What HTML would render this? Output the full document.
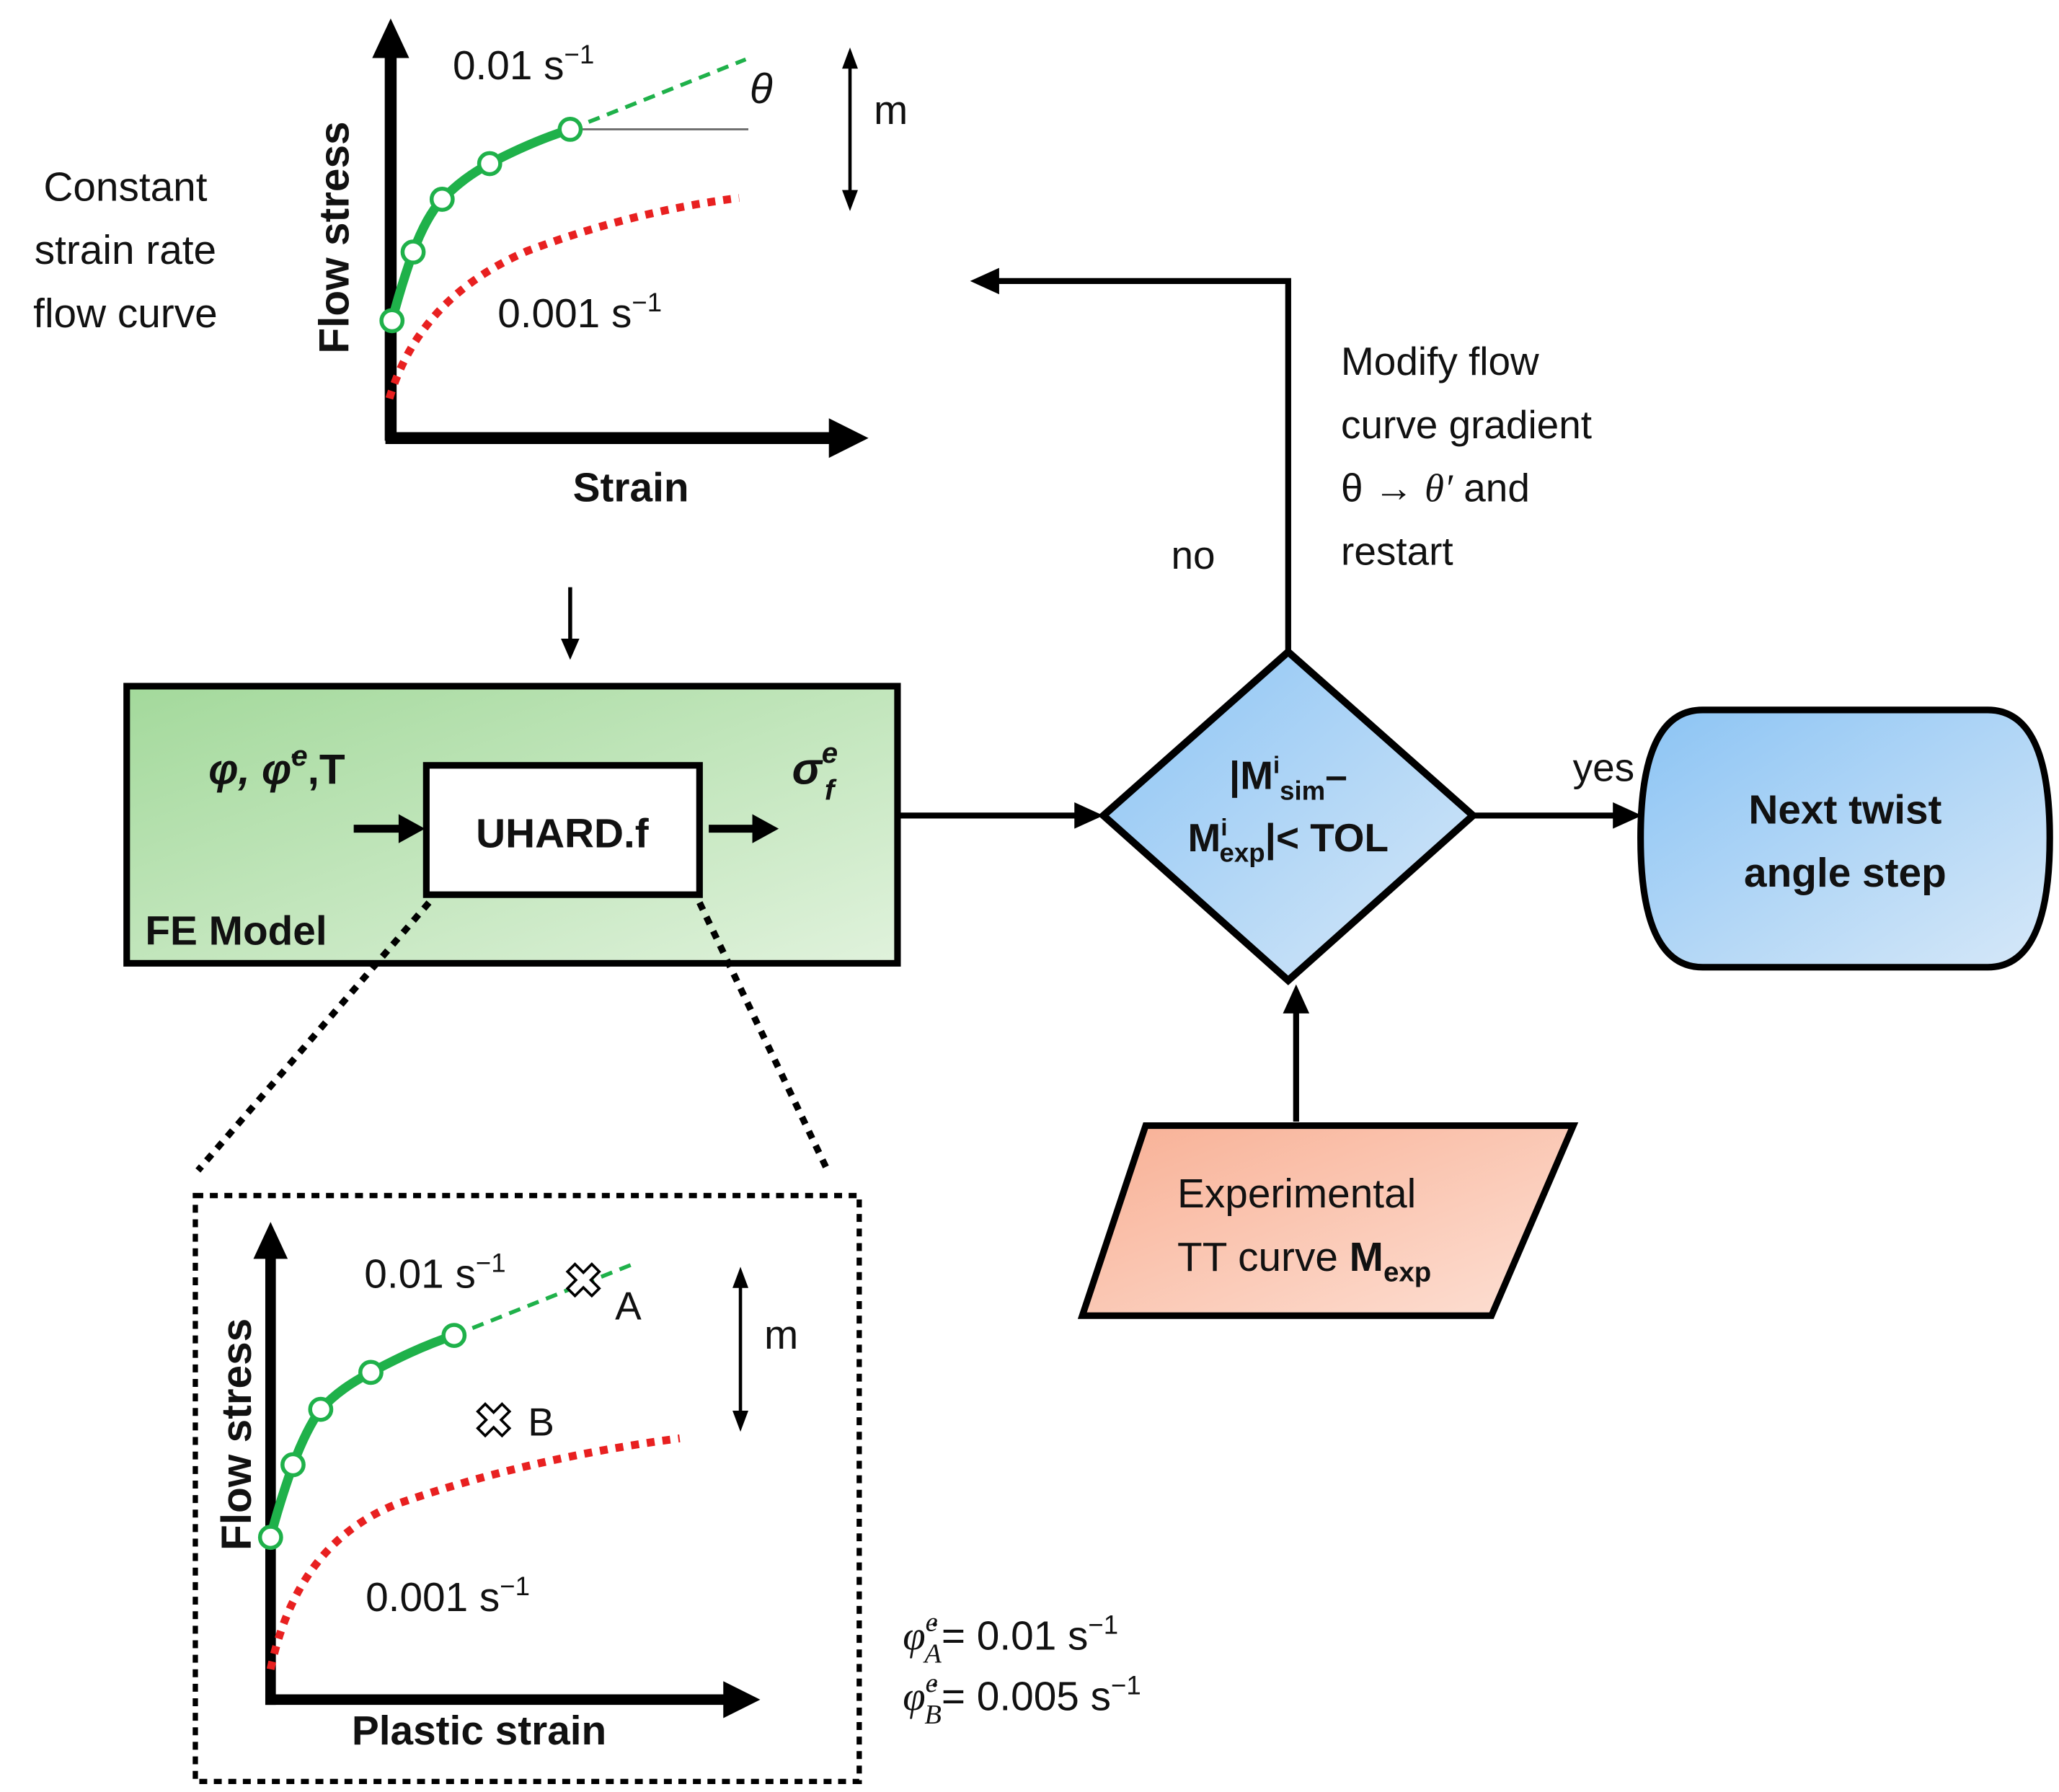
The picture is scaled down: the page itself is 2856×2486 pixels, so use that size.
<!DOCTYPE html>
<html><head><meta charset="utf-8"><style>
html,body{margin:0;padding:0;background:#fff;}
svg{display:block;}
text{font-family:"Liberation Sans","DejaVu Sans",sans-serif;fill:#111;}
.b{font-weight:bold;}
</style></head><body>
<svg width="2856" height="2486" viewBox="0 0 1560 1358" preserveAspectRatio="none" xmlns="http://www.w3.org/2000/svg">
<defs>
<linearGradient id="gg" x1="0" y1="0" x2="1" y2="1"><stop offset="0" stop-color="#a3d99b"/><stop offset="1" stop-color="#e0f2dc"/></linearGradient>
<linearGradient id="bg" x1="0" y1="0" x2="1" y2="1"><stop offset="0" stop-color="#8cc4f4"/><stop offset="1" stop-color="#d6e8f8"/></linearGradient>
<linearGradient id="og" x1="0" y1="0" x2="1" y2="1"><stop offset="0" stop-color="#f8b095"/><stop offset="1" stop-color="#fde0d4"/></linearGradient>
</defs>

<text x="95" y="152" font-size="31" text-anchor="middle">Constant</text>
<text x="95" y="200" font-size="31" text-anchor="middle">strain rate</text>
<text x="95" y="248" font-size="31" text-anchor="middle">flow curve</text>
<text transform="translate(264,180) rotate(-90)" font-size="32" class="b" text-anchor="middle">Flow stress</text>
<line x1="296" y1="40" x2="296" y2="334" stroke="#000" stroke-width="9"/>
<polygon points="296,14 282,44 310,44" fill="#000"/>
<line x1="292" y1="332" x2="630" y2="332" stroke="#000" stroke-width="9"/>
<polygon points="658,332 628,317 628,347" fill="#000"/>
<text x="478" y="380" font-size="31" class="b" text-anchor="middle">Strain</text>
<text x="343" y="60" font-size="31">0.01 s<tspan dy="-12" font-size="20">−1</tspan></text>
<text x="377" y="248" font-size="31">0.001 s<tspan dy="-12" font-size="20">−1</tspan></text>
<text x="568" y="78" font-size="32" font-style="italic" font-family="Liberation Serif">θ</text>
<line x1="644" y1="48" x2="644" y2="148" stroke="#000" stroke-width="2.5"/>
<polygon points="644,36 638,52 650,52" fill="#000"/>
<polygon points="644,160 638,144 650,144" fill="#000"/>
<text x="662" y="94" font-size="31">m</text>
<line x1="432" y1="98" x2="567" y2="98" stroke="#666" stroke-width="1.5"/>
<path d="M295,302 Q318,225 400,190 Q480,160 560,150" fill="none" stroke="#e82020" stroke-width="6" stroke-dasharray="6,6"/>
<path d="M297,243 C303,220 308,205 313,191 C320,172 327,160 335,151 C347,139 358,131 371,124 C390,114 410,105 432,98" fill="none" stroke="#1fb14a" stroke-width="7" stroke-linejoin="round"/>
<line x1="432" y1="98" x2="565" y2="45" stroke="#1fb14a" stroke-width="3" stroke-dasharray="9,6"/>
<g fill="#fff" stroke="#1fb14a" stroke-width="3">
<circle cx="297" cy="243" r="8"/><circle cx="313" cy="191" r="8"/><circle cx="335" cy="151" r="8"/><circle cx="371" cy="124" r="8"/><circle cx="432" cy="98" r="8"/></g>

<line x1="432" y1="445" x2="432" y2="488" stroke="#000" stroke-width="3"/>
<polygon points="432,500 425,484 439,484" fill="#000"/>

<rect x="96" y="520" width="584" height="210" fill="url(#gg)" stroke="#000" stroke-width="5"/>
<rect x="323" y="580" width="207" height="98" fill="#fff" stroke="#000" stroke-width="5"/>
<text x="426" y="642" font-size="31" class="b" text-anchor="middle">UHARD.f</text>
<text x="158" y="594" font-size="32" class="b" font-style="italic" font-family="Liberation Serif">φ, φ̇<tspan dy="-14" font-size="22">e</tspan><tspan dy="14" font-family="Liberation Sans" font-style="normal" font-weight="bold">,T</tspan></text>
<text x="600" y="594" font-size="34" class="b" font-style="italic" font-family="Liberation Serif">σ<tspan dx="0" dy="-16" font-size="22">e</tspan><tspan dx="-10" dy="28" font-size="22">f</tspan></text>
<line x1="268" y1="628" x2="305" y2="628" stroke="#000" stroke-width="6"/>
<polygon points="322,628 302,617 302,639" fill="#000"/>
<line x1="537" y1="628" x2="572" y2="628" stroke="#000" stroke-width="6"/>
<polygon points="590,628 570,617 570,639" fill="#000"/>
<text x="110" y="716" font-size="31" class="b">FE Model</text>

<line x1="680" y1="618" x2="820" y2="618" stroke="#000" stroke-width="4.5"/>
<polygon points="836,618 814,608 814,628" fill="#000"/>

<polygon points="976,494 1116,618 976,743 836,618" fill="url(#bg)" stroke="#000" stroke-width="5.5" stroke-linejoin="miter"/>
<text x="976" y="598" font-size="30" class="b" text-anchor="middle">|M<tspan dy="-12" font-size="18">i</tspan><tspan dy="20" font-size="20">sim</tspan><tspan dy="-8">–</tspan></text>
<text x="976" y="645" font-size="30" class="b" text-anchor="middle">M<tspan dy="-12" font-size="18">i</tspan><tspan dx="-6" dy="20" font-size="20">exp</tspan><tspan dy="-8">|&lt; TOL</tspan></text>

<polyline points="976,494 976,213 752,213" fill="none" stroke="#000" stroke-width="4.5"/>
<polygon points="735,213 757,203 757,223" fill="#000"/>
<text x="904" y="431" font-size="30" text-anchor="middle">no</text>
<text x="1016" y="284" font-size="30">Modify flow</text>
<text x="1016" y="332" font-size="30">curve gradient</text>
<text x="1016" y="380" font-size="30">θ → <tspan font-style="italic" font-family="Liberation Serif">θ′</tspan> and</text>
<text x="1016" y="428" font-size="30">restart</text>

<line x1="1116" y1="618" x2="1228" y2="618" stroke="#000" stroke-width="4.5"/>
<polygon points="1244,618 1222,608 1222,628" fill="#000"/>
<text x="1215" y="592" font-size="30" text-anchor="middle">yes</text>

<path d="M1290,538 L1506,538 Q1553,538 1553,635 Q1553,733 1506,733 L1290,733 Q1243,733 1243,635 Q1243,538 1290,538 Z" fill="url(#bg)" stroke="#000" stroke-width="5"/>
<text x="1398" y="624" font-size="31" class="b" text-anchor="middle">Next twist</text>
<text x="1398" y="672" font-size="31" class="b" text-anchor="middle">angle step</text>

<line x1="982" y1="850" x2="982" y2="765" stroke="#000" stroke-width="4.5"/>
<polygon points="982,746 972,768 992,768" fill="#000"/>
<polygon points="868,853 1192,853 1130,997 820,997" fill="url(#og)" stroke="#000" stroke-width="5"/>
<text x="892" y="915" font-size="31">Experimental</text>
<text x="892" y="963" font-size="31">TT curve <tspan font-weight="bold">M</tspan><tspan dy="8" font-size="21" font-weight="bold">exp</tspan></text>

<line x1="325" y1="684" x2="150" y2="887" stroke="#000" stroke-width="5" stroke-dasharray="6,6"/>
<line x1="530" y1="684" x2="627" y2="887" stroke="#000" stroke-width="5" stroke-dasharray="6,6"/>
<rect x="148" y="906" width="503" height="444" fill="none" stroke="#000" stroke-width="4" stroke-dasharray="6,5"/>

<text transform="translate(190,1087) rotate(-90)" font-size="32" class="b" text-anchor="middle">Flow stress</text>
<line x1="205" y1="950" x2="205" y2="1292" stroke="#000" stroke-width="8"/>
<polygon points="205,926 192,954 218,954" fill="#000"/>
<line x1="201" y1="1288" x2="550" y2="1288" stroke="#000" stroke-width="8"/>
<polygon points="576,1288 548,1274 548,1302" fill="#000"/>
<text x="363" y="1322" font-size="31" class="b" text-anchor="middle">Plastic strain</text>
<text x="276" y="976" font-size="31">0.01 s<tspan dy="-12" font-size="20">−1</tspan></text>
<text x="277" y="1221" font-size="31">0.001 s<tspan dy="-12" font-size="20">−1</tspan></text>
<line x1="561" y1="972" x2="561" y2="1073" stroke="#000" stroke-width="2.5"/>
<polygon points="561,960 555,976 567,976" fill="#000"/>
<polygon points="561,1085 555,1069 567,1069" fill="#000"/>
<text x="579" y="1022" font-size="31">m</text>
<path d="M205,1265 Q225,1170 300,1140 Q400,1105 515,1090" fill="none" stroke="#e82020" stroke-width="6" stroke-dasharray="6,6"/>
<path d="M205,1165 C210,1145 216,1127 222,1110 C228,1094 235,1079 243,1068 C254,1056 266,1048 281,1040 C300,1030 320,1020 344,1012" fill="none" stroke="#1fb14a" stroke-width="7" stroke-linejoin="round"/>
<line x1="344" y1="1012" x2="482" y2="957" stroke="#1fb14a" stroke-width="3" stroke-dasharray="9,6"/>
<g fill="#fff" stroke="#1fb14a" stroke-width="3">
<circle cx="205" cy="1165" r="8"/><circle cx="222" cy="1110" r="8"/><circle cx="243" cy="1068" r="8"/><circle cx="281" cy="1040" r="8"/><circle cx="344" cy="1012" r="8"/></g>
<g fill="#fff" stroke="#000" stroke-width="2">
<path transform="translate(442,970) rotate(45)" d="M-4,-13 H4 V-4 H13 V4 H4 V13 H-4 V4 H-13 V-4 H-4 Z"/>
<path transform="translate(374,1076) rotate(45)" d="M-4,-13 H4 V-4 H13 V4 H4 V13 H-4 V4 H-13 V-4 H-4 Z"/>
</g>
<text x="466" y="1000" font-size="30">A</text>
<text x="400" y="1088" font-size="30">B</text>

<text x="684" y="1250" font-size="31"><tspan font-style="italic" font-family="Liberation Serif">φ̇</tspan><tspan dy="-14" font-size="21" font-style="italic" font-family="Liberation Serif">e</tspan><tspan dx="-10" dy="24" font-size="21" font-style="italic" font-family="Liberation Serif">A</tspan><tspan dy="-10">= 0.01 s</tspan><tspan dy="-12" font-size="20">−1</tspan></text>
<text x="684" y="1296" font-size="31"><tspan font-style="italic" font-family="Liberation Serif">φ̇</tspan><tspan dy="-14" font-size="21" font-style="italic" font-family="Liberation Serif">e</tspan><tspan dx="-10" dy="24" font-size="21" font-style="italic" font-family="Liberation Serif">B</tspan><tspan dy="-10">= 0.005 s</tspan><tspan dy="-12" font-size="20">−1</tspan></text>
</svg>
</body></html>
